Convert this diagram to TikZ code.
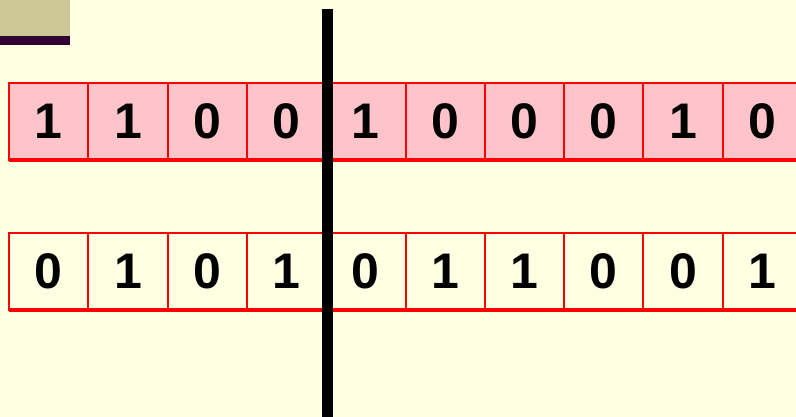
\documentclass[tikz,border=0pt]{standalone}
\usepackage{fontspec}
\setmainfont{Liberation Sans}
\usepackage{xcolor}
\usepackage{tikz}
\usetikzlibrary{positioning}
\definecolor{paper}{HTML}{FFFFE3}
\definecolor{cellPink}{HTML}{FFC4CA}
\definecolor{cellRed}{HTML}{FF0000}
\definecolor{tabTan}{HTML}{CCC896}
\definecolor{tabPlum}{HTML}{330033}

\begin{document}
\begin{tikzpicture}[x=1pt, y=-1pt, bit/.style={draw=cellRed, line width=2pt, outer sep=0pt, minimum width=79.3pt, minimum height=77pt, inner sep=0pt, font=\fontsize{50}{50}\selectfont\bfseries}, upper/.style={bit, fill=cellPink}, lower/.style={bit, fill=paper}]
\fill[paper] (0,0) rectangle (796,417);
\useasboundingbox (0,0) rectangle (796,417);
\fill[tabTan] (0,0) rectangle (70,36); \fill[tabPlum] (0,36) rectangle (70,45);
% first string
\node[upper] (a1) at (48.65,121.5) {1};
\node[upper, right=0pt of a1] (a2) {1};
\node[upper, right=0pt of a2] (a3) {0};
\node[upper, right=0pt of a3] (a4) {0};
\node[upper, right=0pt of a4] (a5) {1};
\node[upper, right=0pt of a5] (a6) {0};
\node[upper, right=0pt of a6] (a7) {0};
\node[upper, right=0pt of a7] (a8) {0};
\node[upper, right=0pt of a8] (a9) {1};
\node[upper, right=0pt of a9] (a10) {0};
% second string
\node[lower] (b1) at (48.65,271.5) {0};
\node[lower, right=0pt of b1] (b2) {1};
\node[lower, right=0pt of b2] (b3) {0};
\node[lower, right=0pt of b3] (b4) {1};
\node[lower, right=0pt of b4] (b5) {0};
\node[lower, right=0pt of b5] (b6) {1};
\node[lower, right=0pt of b6] (b7) {1};
\node[lower, right=0pt of b7] (b8) {0};
\node[lower, right=0pt of b8] (b9) {0};
\node[lower, right=0pt of b9] (b10) {1};
\draw[cellRed, line width=4pt] (a1.south west)--(a10.south east); \draw[cellRed, line width=4pt] (b1.south west)--(b10.south east);
% crossover point
\coordinate (cutTop) at (327.5,9); \coordinate (cutBot) at (327.5,417);
\draw[line width=11pt] (cutTop)--(cutBot);
\end{tikzpicture}
\end{document}
